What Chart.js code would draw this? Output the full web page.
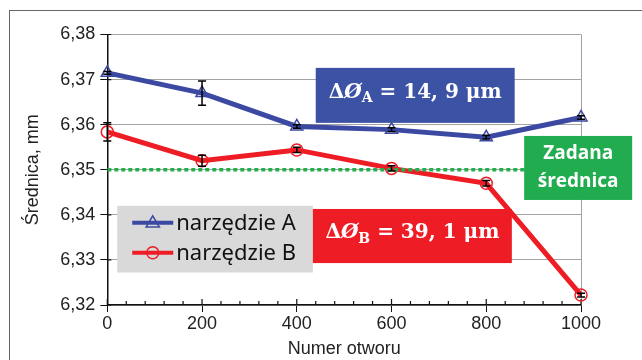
<!DOCTYPE html>
<html>
<head>
<meta charset="utf-8">
<script src="https://cdn.jsdelivr.net/npm/chart.js@4.4.1/dist/chart.umd.min.js"></script>
<style>
  html, body { margin: 0; padding: 0; background: #fff; }
  #wrap { width: 642px; height: 360px; }
</style>
</head>
<body>
<div id="wrap"><canvas id="chart" width="642" height="360"></canvas></div>
<script>
// hole number (x) and measured diameter (mm)
const holes = [0, 200, 400, 600, 800, 1000]
const toolA = [6.3715, 6.3670, 6.3596, 6.3589, 6.3572, 6.3616]
const toolB = [6.3584, 6.3520, 6.3544, 6.3503, 6.3470, 6.3222]
const errA = [0.0003, 0.0027, 0.0004, 0.0004, 0.0004, 0.0004]
const errB = [0.0020, 0.0012, 0.0006, 0.0006, 0.0006, 0.0004]
const targetDiameter = 6.35
const xRange = [0, 1000]
const yRange = [6.32, 6.38]
const seriesNames = ['narzędzie A', 'narzędzie B']

const BLUE = '#3b49a2'
const RED = '#ee1d25'
const GREEN = '#22b04c'
const AXIS_FONT = 'Liberation Sans'

const fmt = v => v.toFixed(2).replace('.', ',')

function drawMarker(ctx, kind, x, y, color) {
  ctx.save()
  ctx.strokeStyle = color
  ctx.lineWidth = 1.5
  ctx.beginPath()
  if (kind === 'triangle') {
    const r = 7
    ctx.moveTo(x, y - r)
    ctx.lineTo(x + r * 0.95, y + r * 0.6)
    ctx.lineTo(x - r * 0.95, y + r * 0.6)
    ctx.closePath()
  } else {
    ctx.arc(x, y, 6, 0, Math.PI * 2)
  }
  ctx.stroke()
  ctx.restore()
}

// box text like "ΔØ_A = 14, 9 μm"
function drawDelta(ctx, cx, cy, sub, rest) {
  const parts = [
    { t: 'Δ', f: 'bold 20px "DejaVu Serif"', dy: 0 },
    { t: 'Ø', f: 'italic bold 20px "DejaVu Serif"', dy: 0 },
    { t: sub, f: 'bold 14px "DejaVu Serif"', dy: 6 },
    { t: ' = ' + rest, f: 'bold 20px "DejaVu Serif"', dy: 0 }
  ]
  let total = 0
  parts.forEach(p => { ctx.font = p.f; p.w = ctx.measureText(p.t).width; total += p.w })
  let x = cx - total / 2
  ctx.fillStyle = '#fff'
  ctx.textBaseline = 'middle'
  ctx.textAlign = 'left'
  parts.forEach(p => { ctx.font = p.f; ctx.fillText(p.t, x, cy + p.dy); x += p.w })
}

const extras = {
  id: 'extras',
  beforeDraw(chart) {
    const ctx = chart.ctx
    ctx.save()
    ctx.fillStyle = '#fff'
    ctx.fillRect(0, 0, chart.width, chart.height)
    ctx.strokeStyle = '#666'
    ctx.lineWidth = 1
    ctx.strokeRect(9.5, 10.5, chart.width, chart.height)
    ctx.restore()
  },
  beforeDatasetsDraw(chart) {
    const { ctx, chartArea: a, scales: { x, y } } = chart
    ctx.save()
    // right frame
    ctx.strokeStyle = '#a0a0a0'
    ctx.lineWidth = 1
    ctx.beginPath()
    ctx.moveTo(a.right + 0.5, a.top)
    ctx.lineTo(a.right + 0.5, a.bottom)
    ctx.stroke()
    // inward ticks
    ctx.strokeStyle = '#111'
    ctx.lineWidth = 1.2
    ctx.beginPath()
    for (let v = xRange[0]; v <= xRange[1]; v += 40) {
      const px = x.getPixelForValue(v)
      const len = v % 200 === 0 ? 6 : 4
      ctx.moveTo(px, a.bottom)
      ctx.lineTo(px, a.bottom - len)
    }
    y.ticks.forEach(t => {
      const py = y.getPixelForValue(t.value)
      ctx.moveTo(a.left, py)
      ctx.lineTo(a.left + 4, py)
    })
    ctx.stroke()
    ctx.restore()
  },
  afterDatasetsDraw(chart) {
    const { ctx, scales: { x, y } } = chart
    ctx.save()
    ctx.strokeStyle = '#000'
    ctx.lineWidth = 1.5
    ;[[toolA, errA], [toolB, errB]].forEach(([vals, errs]) => {
      vals.forEach((v, i) => {
        const px = x.getPixelForValue(holes[i])
        const top = y.getPixelForValue(v + errs[i])
        const bot = y.getPixelForValue(v - errs[i])
        ctx.beginPath()
        ctx.moveTo(px, top); ctx.lineTo(px, bot)
        ctx.moveTo(px - 4, top); ctx.lineTo(px + 4, top)
        ctx.moveTo(px - 4, bot); ctx.lineTo(px + 4, bot)
        ctx.stroke()
      })
    })
    ctx.restore()
  },
  afterDraw(chart) {
    const { ctx, scales: { x, y } } = chart
    const box = (x0, x1, y0, y1) => {
      const l = x.getPixelForValue(x0), r = x.getPixelForValue(x1)
      const t = y.getPixelForValue(y0), b = y.getPixelForValue(y1)
      return { l, t, w: r - l, h: b - t, cx: (l + r) / 2, cy: (t + b) / 2 }
    }
    ctx.save()

    // legend
    const lg = box(21, 434, 6.3420, 6.3272)
    ctx.fillStyle = '#d9d9d9'
    ctx.fillRect(lg.l, lg.t, lg.w, lg.h)
    const rows = [[BLUE, 'triangle'], [RED, 'circle']]
    rows.forEach(([color, kind], i) => {
      const ry = lg.t + 17 + i * 30
      ctx.strokeStyle = color
      ctx.lineWidth = 4
      ctx.beginPath()
      ctx.moveTo(lg.l + 15, ry)
      ctx.lineTo(lg.l + 56, ry)
      ctx.stroke()
      drawMarker(ctx, kind, lg.l + 35.5, ry, color)
      ctx.fillStyle = '#111'
      ctx.font = '22px "Noto Sans"'
      ctx.textBaseline = 'middle'
      ctx.textAlign = 'left'
      ctx.fillText(seriesNames[i], lg.l + 59, ry + 1)
    })

    // delta boxes
    const bA = box(440, 860, 6.3726, 6.3604)
    ctx.fillStyle = '#3c52a4'
    ctx.fillRect(bA.l, bA.t, bA.w, bA.h)
    drawDelta(ctx, bA.cx, bA.cy - 3, 'A', '14, 9 μm')

    const bB = box(434, 854, 6.3413, 6.3293)
    ctx.fillStyle = '#ee1c24'
    ctx.fillRect(bB.l, bB.t, bB.w, bB.h)
    drawDelta(ctx, bB.cx, bB.cy - 3, 'B', '39, 1 μm')

    // target label
    const bG = box(880, 1108, 6.3575, 6.3433)
    ctx.fillStyle = '#21ad4f'
    ctx.fillRect(bG.l, bG.t, bG.w, bG.h)
    ctx.fillStyle = '#fff'
    ctx.font = 'bold 19px "Open Sans"'
    ctx.textAlign = 'center'
    ctx.textBaseline = 'middle'
    ctx.fillText('Zadana', bG.cx, bG.cy - 14)
    ctx.fillText('średnica', bG.cx, bG.cy + 14)

    ctx.restore()
  }
}

const pts = vals => holes.map((h, i) => ({ x: h, y: vals[i] }))

new Chart(document.getElementById('chart'), {
  type: 'line',
  data: {
    datasets: [{
      label: 'Zadana średnica',
      data: [{ x: xRange[0], y: targetDiameter }, { x: xRange[1], y: targetDiameter }],
      borderColor: GREEN,
      borderWidth: 3.5,
      borderDash: [4, 3],
      pointRadius: 0,
      order: 0
    }, {
      label: seriesNames[0],
      data: pts(toolA),
      borderColor: BLUE,
      borderWidth: 5,
      pointStyle: 'triangle',
      pointRadius: 7,
      pointBorderWidth: 1.5,
      pointBackgroundColor: 'rgba(255,255,255,0)',
      pointBorderColor: BLUE,
      clip: false,
      order: 1
    }, {
      label: seriesNames[1],
      data: pts(toolB),
      borderColor: RED,
      borderWidth: 5,
      pointStyle: 'circle',
      pointRadius: 6,
      pointBorderWidth: 1.5,
      pointBackgroundColor: 'rgba(255,255,255,0)',
      pointBorderColor: RED,
      clip: false,
      order: 2
    }]
  },
  options: {
    responsive: false,
    animation: false,
    events: [],
    tension: 0,
    layout: { padding: { left: 0, right: 61, top: 34.5, bottom: 0 } },
    plugins: { legend: { display: false }, tooltip: { enabled: false } },
    scales: {
      x: {
        type: 'linear',
        min: xRange[0],
        max: xRange[1],
        afterFit: s => { s.height = 55 },
        ticks: { stepSize: 200, color: '#222', padding: 1, callback: v => String(v), font: { family: AXIS_FONT, size: 18 } },
        grid: { drawOnChartArea: false, tickLength: 7, tickColor: '#111' },
        border: { color: '#111', width: 1.5 },
        title: { display: true, text: 'Numer otworu', color: '#222', padding: { top: 2, bottom: 0 }, font: { family: AXIS_FONT, size: 18 } }
      },
      y: {
        min: yRange[0],
        max: yRange[1],
        afterFit: s => { s.width = 107.3 },
        ticks: { stepSize: 0.01, color: '#222', padding: 5, callback: v => fmt(v), font: { family: AXIS_FONT, size: 18 } },
        grid: { color: '#a3a3a3', tickLength: 7, tickColor: '#111' },
        border: { color: '#111', width: 1.5 },
        title: { display: true, text: 'Średnica, mm', color: '#222', padding: { top: 22, bottom: 0 }, font: { family: AXIS_FONT, size: 18 } }
      }
    }
  },
  plugins: [extras]
})
</script>
</body>
</html>
